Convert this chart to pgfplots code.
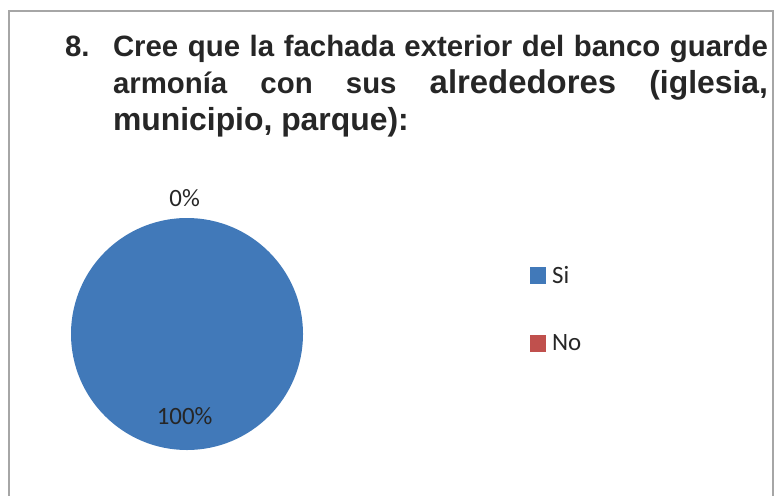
\documentclass[border=0pt]{standalone}
\usepackage{pgfplots}
\pgfplotsset{compat=1.18}
\usepackage{pgfplotstable}
\usepackage{fontspec}
\setmainfont{Liberation Sans}
\newfontfamily\calibri{Carlito}
\definecolor{siblue}{HTML}{4179B9}
\definecolor{nored}{HTML}{C0504D}
\definecolor{bordergray}{HTML}{A6A6A6}

\pgfplotstableread{
label value
Si 100
No 0
}\piedata

\begin{document}
\begin{tikzpicture}[x=1bp,y=1bp]
\path[use as bounding box] (0,0) rectangle (777,-496);
\draw[bordergray, line width=1.6bp] (9,-497) -- (9,-11) -- (773,-11) -- (773,-497);
\begin{scope}[every node/.style={inner sep=0pt, outer sep=0pt, anchor=base west, font=\bfseries\fontsize{29.5}{36}\selectfont, text=black!85}]
\node at (65,-57) {8.};
\node at (113,-57) {\makebox[655bp][s]{Cree que la fachada exterior del banco guarde}};
\node at (113,-94) {\makebox[655bp][s]{armonía con sus {\fontsize{33}{36}\selectfont alrededores} {\fontsize{32}{36}\selectfont (iglesia,}}};
\node at (113,-131) {\fontsize{32}{36}\selectfont municipio, parque):};
\end{scope}
\begin{axis}[
  at={(187bp,-334bp)}, anchor=center,
  scale only axis, width=232bp, height=232bp,
  xmin=-1, xmax=1, ymin=-1, ymax=1,
  hide axis, clip=false,
  legend image code/.code={\fill[#1] (0bp,-7.75bp) rectangle (15.5bp,7.75bp); \path[draw=none,fill=none] (22bp,0bp) circle (0pt);},
  legend style={at={(1.978,0.793)}, anchor=north west, draw=none, fill=none,
    inner sep=0pt, outer sep=0pt, row sep=50bp,
    font=\calibri\fontsize{25}{25}\selectfont, text=black!85,
    nodes={inner sep=0pt, outer sep=0pt}},
  legend cell align=left,
]
\pgfplotstablegetelem{0}{value}\of\piedata \let\va\pgfplotsretval
\pgfplotstablegetelem{1}{value}\of\piedata \let\vb\pgfplotsretval
\pgfmathsetmacro{\da}{3.6*\va}
\fill[siblue] (axis cs:0,0) -- (axis cs:0,1) arc[start angle=90, delta angle=-\da, radius=116bp] -- cycle;
\node[font=\calibri\fontsize{25}{25}\selectfont, text=black!85] at (axis cs:-0.02,-0.71) {\pgfmathprintnumber[assume math mode=true]{\va}\%};
\node[font=\calibri\fontsize{25}{25}\selectfont, text=black!85] at (axis cs:-0.02,1.17) {\pgfmathprintnumber[assume math mode=true]{\vb}\%};
\addlegendimage{siblue}
\addlegendentry{Si}
\addlegendimage{nored}
\addlegendentry{No}
\end{axis}
\end{tikzpicture}
\end{document}
